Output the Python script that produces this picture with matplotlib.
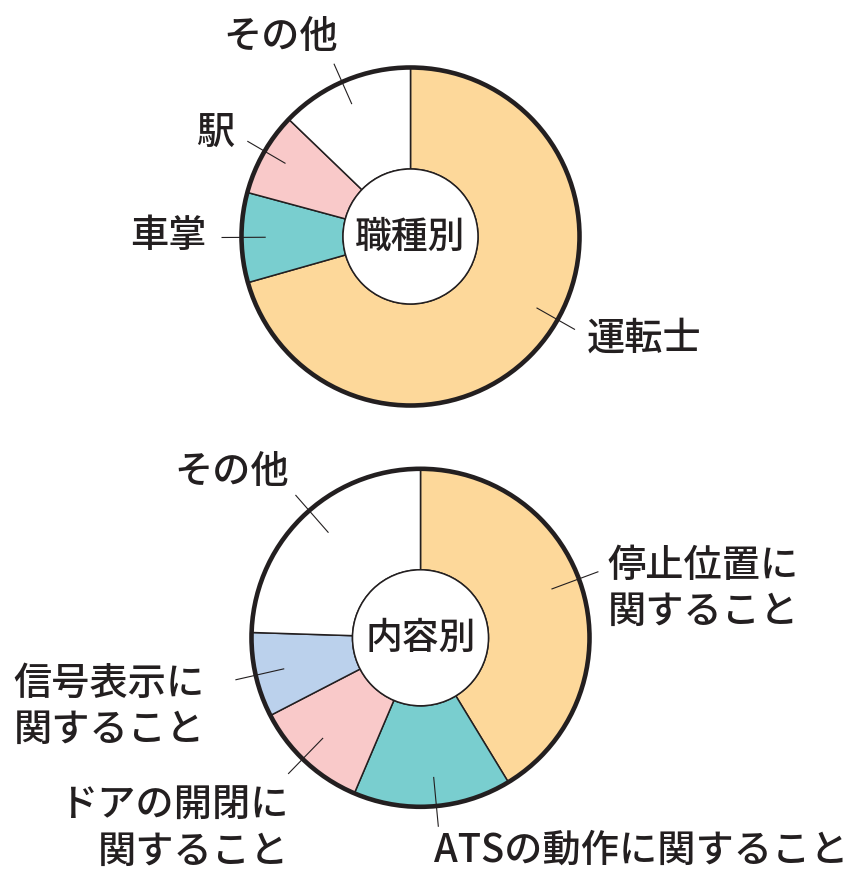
import matplotlib.pyplot as plt
from matplotlib.patches import Circle
import numpy as np

plt.rcParams['font.family'] = ['Noto Sans CJK JP', 'DejaVu Sans']
plt.rcParams['font.weight'] = 'medium'

# data (percent of each ring)
job_labels = ['運転士', '車掌', '駅', 'その他']
job_values = [70.6, 8.6, 8.0, 12.8]
job_colors = ['#FDD89A', '#79CECF', '#F9C9C9', '#FFFFFF']
job_title = '職種別'

content_labels = ['停止位置に\n関すること', 'ATSの動作に関すること', 'ドアの開閉に\n関すること',
                  '信号表示に\n関すること', 'その他']
content_values = [41.3, 15.1, 11.0, 8.1, 24.5]
content_colors = ['#FDD89A', '#79CECF', '#F9C9C9', '#BBD1EC', '#FFFFFF']
content_title = '内容別'

ink = '#231F20'
W, H = 861, 871

fig = plt.figure(figsize=(W / 100, H / 100), dpi=100)
ax = fig.add_axes([0, 0, 1, 1])


def donut(values, colors, labels, title, center, R, r_in, leader_ang, r1, r2, text_pos, text_ha):
    cx, cy = center[0], H - center[1]
    ax.pie(values, colors=colors, center=(cx, cy), radius=R, startangle=90,
           counterclock=False,
           wedgeprops=dict(width=R - r_in, edgecolor=ink, linewidth=1.1))
    ax.add_patch(Circle((cx, cy), R, fill=False, edgecolor=ink, linewidth=3.3, zorder=5))
    ax.add_patch(Circle((cx, cy), r_in, facecolor='white', edgecolor=ink, linewidth=1.1, zorder=5))
    ax.text(cx, cy, title, ha='center', va='center', fontsize=26.5, color=ink, zorder=6)
    for lab, ang, pos, ha in zip(labels, leader_ang, text_pos, text_ha):
        a = np.radians(ang)
        xs = [cx + r1 * R * np.sin(a), cx + r2 * R * np.sin(a)]
        ys = [cy + r1 * R * np.cos(a), cy + r2 * R * np.cos(a)]
        ax.plot(xs, ys, color=ink, linewidth=0.8, zorder=6)
        ax.text(pos[0], H - pos[1], lab, ha=ha, va='center', multialignment=ha,
                fontsize=27.5, color=ink, linespacing=1.18)


donut(job_values, job_colors, job_labels, job_title,
      center=(410.5, 236.5), R=169, r_in=67.5,
      leader_ang=[119.5, 269.7, 300.3, 336.1], r1=0.86, r2=1.115,
      text_pos=[(587, 339), (207, 236), (215, 133), (281, 37)],
      text_ha=['left', 'right', 'center', 'center'])

donut(content_values, content_colors, content_labels, content_title,
      center=(420.5, 637.8), R=169, r_in=68,
      leader_ang=[69.6, 174.6, 224.2, 257.2, 318.8], r1=0.83, r2=1.12,
      text_pos=[(608, 589), (434, 851), (289, 829), (205, 707), (232, 472)],
      text_ha=['left', 'left', 'right', 'right', 'center'])

ax.set_xlim(0, W)
ax.set_ylim(0, H)
ax.set_aspect('equal')
ax.axis('off')

plt.savefig('out.png', dpi=100, facecolor='white')
